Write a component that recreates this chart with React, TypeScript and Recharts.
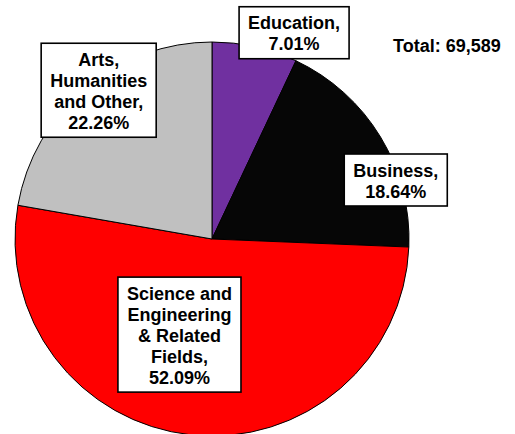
import { PieChart, Pie, Cell } from 'recharts';

// degree field shares, % of total
const fields = ['Education', 'Business', 'Science and Engineering & Related Fields', 'Arts, Humanities and Other'];
const shares = [7.01, 18.64, 52.09, 22.26];
const labelLines = [
  ['Education,'],
  ['Business,'],
  ['Science and', 'Engineering', '& Related', 'Fields,'],
  ['Arts,', 'Humanities', 'and Other,'],
];
const total = 69589;

const colors = ['#7030A0', '#060606', '#FF0000', '#C0C0C0'];

// where each callout box sits, as angle (deg) and distance from the pie centre
const labelPlacement = [
  { angle: 68.3, dist: 222 },
  { angle: 17.8, dist: 193 },
  { angle: -108.8, dist: 101 },
  { angle: 127.3, dist: 187 },
];

const FONT = 'Arial, "Liberation Sans", sans-serif';
const FONT_SIZE = 18;
const LINE_H = 21;

let ctx: CanvasRenderingContext2D | null = null;
function measure(text: string) {
  if (!ctx) ctx = document.createElement('canvas').getContext('2d');
  if (!ctx) return text.length * 10;
  ctx.font = `bold ${FONT_SIZE}px ${FONT}`;
  return ctx.measureText(text).width;
}

const data = fields.map((name, i) => ({ name, value: shares[i] }));

function CalloutLabel(props: any) {
  const { cx, cy, index, value } = props;
  const place = labelPlacement[index];
  const rad = (place.angle * Math.PI) / 180;
  const x = cx + place.dist * Math.cos(rad);
  const y = cy - place.dist * Math.sin(rad);
  const lines = [...labelLines[index], `${value.toFixed(2)}%`];
  const w = Math.max(...lines.map(measure)) + 18;
  const h = lines.length * LINE_H + 10;
  const top = y - h / 2;
  return (
    <g>
      <rect x={x - w / 2} y={top} width={w} height={h} fill="#fff" stroke="#000" strokeWidth={1.6} />
      {lines.map((line, i) => (
        <text
          key={i}
          x={x}
          y={top + 5 + LINE_H / 2 + i * LINE_H + 1}
          textAnchor="middle"
          dominantBaseline="central"
          fontFamily={FONT}
          fontWeight="bold"
          fontSize={FONT_SIZE}
          fill="#000"
        >
          {line}
        </text>
      ))}
    </g>
  );
}

export default function App() {
  return (
    <div style={{ position: 'absolute', left: 0, top: 0, width: 515, height: 434, background: '#fff', overflow: 'hidden' }}>
      <PieChart width={515} height={434} margin={{ top: 0, right: 0, bottom: 0, left: 0 }}>
        <Pie
          data={data}
          dataKey="value"
          nameKey="name"
          cx={212}
          cy={239}
          outerRadius={197}
          startAngle={90}
          endAngle={-270}
          stroke="#000"
          strokeWidth={1}
          labelLine={false}
          label={CalloutLabel}
          isAnimationActive={false}
        >
          {data.map((d, i) => (
            <Cell key={d.name} fill={colors[i]} />
          ))}
        </Pie>
      </PieChart>
      <div
        style={{
          position: 'absolute',
          left: 393,
          top: 36,
          fontFamily: FONT,
          fontWeight: 'bold',
          fontSize: FONT_SIZE,
          lineHeight: '20px',
          color: '#000',
          whiteSpace: 'nowrap',
        }}
      >
        Total: {total.toLocaleString('en-US')}
      </div>
    </div>
  );
}
